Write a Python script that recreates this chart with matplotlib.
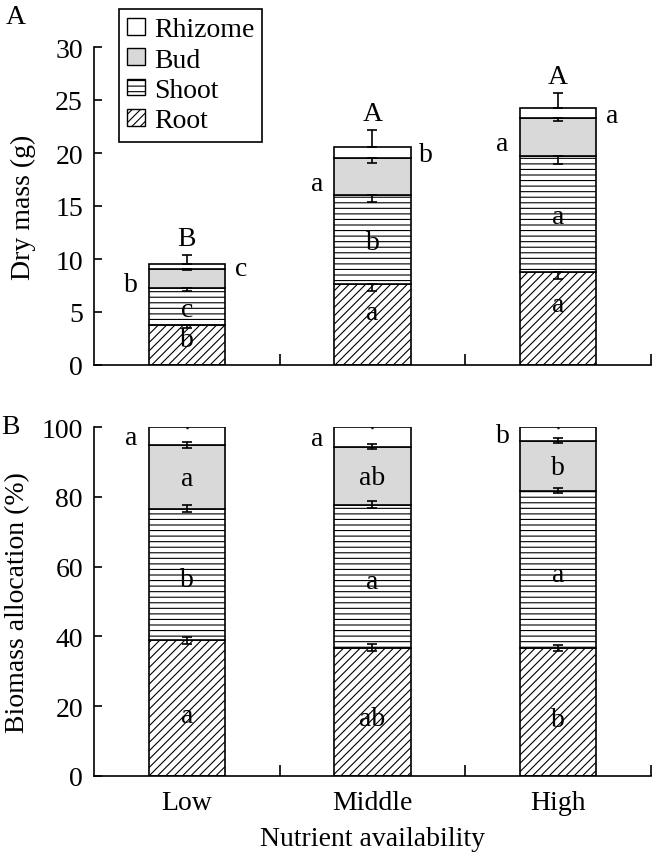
import numpy as np
import matplotlib
matplotlib.use('Agg')
import matplotlib.pyplot as plt
from matplotlib.patches import Patch

plt.rcParams['font.family'] = ['Liberation Serif', 'DejaVu Serif']
plt.rcParams['hatch.linewidth'] = 0.8
plt.rcParams['axes.linewidth'] = 1.2

# categories
categories = ['Low', 'Middle', 'High']
parts = ['Rhizome', 'Bud', 'Shoot', 'Root']

# panel A: dry mass (g)
root_mass = [3.77, 7.64, 8.8]
shoot_mass = [3.49, 8.36, 10.95]
bud_mass = [1.8, 3.5, 3.52]
rhizome_mass = [0.47, 1.04, 0.93]
root_mass_err = [0.3, 0.7, 0.7]
shoot_mass_err = [0.3, 0.65, 0.8]
bud_mass_err = [0.1, 0.4, 0.28]
total_mass_err = [0.85, 1.63, 1.43]

# panel B: biomass allocation (%)
root_pct = [38.9, 36.8, 36.6]
shoot_pct = [37.7, 40.9, 45.2]
bud_pct = [18.2, 16.7, 14.3]
rhizome_pct = [5.2, 5.6, 3.9]
root_pct_err = [1.0, 1.0, 0.8]
shoot_pct_err = [1.0, 1.0, 0.8]
bud_pct_err = [0.9, 0.8, 0.7]
rhizome_pct_err = [0.15, 0.15, 0.15]

# significance letters
total_letters_A = ['B', 'A', 'A']
rhizome_letters_A = ['c', 'b', 'a']
bud_letters_A = ['b', 'a', 'a']
shoot_letters_A = ['c', 'b', 'a']
root_letters_A = ['b', 'a', 'a']
rhizome_letters_B = ['a', 'a', 'b']
bud_letters_B = ['a', 'ab', 'b']
shoot_letters_B = ['b', 'a', 'a']
root_letters_B = ['a', 'ab', 'b']

W, H = 652, 853
fig = plt.figure(figsize=(W / 100, H / 100), dpi=100)

left = 94 / W
width = (651 - 94) / W
axA = fig.add_axes([left, 1 - 366 / H, width, (366 - 48) / H])
axB = fig.add_axes([left, 1 - 777 / H, width, (777 - 428) / H])

x = np.arange(len(categories))
bw = 0.41
bud_grey = '#d9d9d9'
fs = 20


def stacked(ax, root, shoot, bud, rhizome):
    root = np.array(root)
    shoot = np.array(shoot)
    bud = np.array(bud)
    rhizome = np.array(rhizome)
    kw = dict(width=bw, edgecolor='black', linewidth=1.2, zorder=2)
    ax.bar(x, root, color='white', hatch='////', **kw)
    ax.bar(x, shoot, bottom=root, color='white', hatch='---', **kw)
    ax.bar(x, bud, bottom=root + shoot, color=bud_grey, **kw)
    ax.bar(x, rhizome, bottom=root + shoot + bud, color='white', **kw)
    return root, root + shoot, root + shoot + bud, root + shoot + bud + rhizome


def style_axis(ax, ymax, step):
    ax.set_xlim(-0.5, 2.5)
    ax.set_ylim(0, ymax)
    ax.set_yticks(np.arange(0, ymax + 1, step))
    ax.spines['top'].set_visible(False)
    ax.spines['right'].set_visible(False)
    ax.tick_params(axis='y', direction='in', length=6, width=1.2, labelsize=fs, pad=8)
    ax.set_xticks(x)
    ax.tick_params(axis='x', which='major', length=0, labelsize=fs, pad=10)
    ax.set_xticks([0.5, 1.5, 2.5], minor=True)
    ax.tick_params(axis='x', which='minor', direction='in', length=8, width=1.2)


ekw = dict(fmt='none', ecolor='black', elinewidth=1.2, capsize=3.5, capthick=1.2, zorder=3)

# ---- panel A ----
r_top, s_top, b_top, t_top = stacked(axA, root_mass, shoot_mass, bud_mass, rhizome_mass)
zeros = np.zeros(len(x))
axA.errorbar(x, r_top, yerr=[root_mass_err, zeros], **ekw)
axA.errorbar(x, s_top, yerr=[shoot_mass_err, zeros], **ekw)
axA.errorbar(x, b_top, yerr=[bud_mass_err, zeros], **ekw)
axA.errorbar(x, t_top, yerr=[zeros, total_mass_err], **ekw)
style_axis(axA, 30, 5)
axA.set_xticklabels([])
axA.set_ylabel('Dry mass (g)', fontsize=fs)
axA.yaxis.set_label_coords((36 - 94) / 557, 0.5)

tk = dict(fontsize=fs, ha='center', va='center', zorder=4)
for i in range(len(x)):
    axA.text(x[i], t_top[i] + total_mass_err[i] + 1.6, total_letters_A[i], **tk)
    axA.text(x[i] + 0.29, (b_top[i] + t_top[i]) / 2 - 0.2, rhizome_letters_A[i], **tk)
    axA.text(x[i] - 0.3, (s_top[i] + b_top[i]) / 2 - 0.6, bud_letters_A[i], **tk)
    axA.text(x[i], (r_top[i] + s_top[i]) / 2 - 0.3, shoot_letters_A[i], **tk)
    axA.text(x[i], r_top[i] * 0.65, root_letters_A[i], **tk)

# ---- panel B ----
r_top, s_top, b_top, t_top = stacked(axB, root_pct, shoot_pct, bud_pct, rhizome_pct)
axB.errorbar(x, r_top, yerr=root_pct_err, **ekw)
axB.errorbar(x, s_top, yerr=shoot_pct_err, **ekw)
axB.errorbar(x, b_top, yerr=bud_pct_err, **ekw)
axB.errorbar(x, t_top, yerr=rhizome_pct_err, fmt='none', ecolor='black', elinewidth=1.0,
             capsize=0.5, capthick=1.0, zorder=3)
style_axis(axB, 100, 20)
axB.set_xticklabels(categories)
axB.set_ylabel('Biomass allocation (%)', fontsize=fs)
axB.yaxis.set_label_coords((30 - 94) / 557, 0.5)
axB.set_xlabel('Nutrient availability', fontsize=fs, labelpad=8)

for i in range(len(x)):
    axB.text(x[i] - 0.3, (b_top[i] + t_top[i]) / 2 - 0.5, rhizome_letters_B[i], **tk)
    axB.text(x[i], (s_top[i] + b_top[i]) / 2 - 0.5, bud_letters_B[i], **tk)
    axB.text(x[i], (r_top[i] + s_top[i]) / 2 - 1.5, shoot_letters_B[i], **tk)
    axB.text(x[i], r_top[i] / 2 - 2, root_letters_B[i], **tk)

# panel letters
fig.text(16 / W, 1 - 18 / H, 'A', fontsize=fs, ha='center', va='center')
fig.text(10 / W, 1 - 428 / H, 'B', fontsize=fs, ha='center', va='center')

# legend
handles = [
    Patch(facecolor='white', edgecolor='black', linewidth=1.0, label='Rhizome'),
    Patch(facecolor=bud_grey, edgecolor='black', linewidth=1.0, label='Bud'),
    Patch(facecolor='white', edgecolor='black', linewidth=1.0, hatch='---', label='Shoot'),
    Patch(facecolor='white', edgecolor='black', linewidth=1.0, hatch='////', label='Root'),
]
leg = fig.legend(handles=handles, loc='upper left', bbox_to_anchor=(119 / W, 1 - 10 / H),
                 fontsize=fs, frameon=True, fancybox=False, edgecolor='black', framealpha=1,
                 handlelength=0.65, handleheight=0.55, handletextpad=0.3, borderpad=0.3,
                 labelspacing=0.19, borderaxespad=0)
leg.get_frame().set_linewidth(1.2)

fig.savefig('out.png', dpi=100)
